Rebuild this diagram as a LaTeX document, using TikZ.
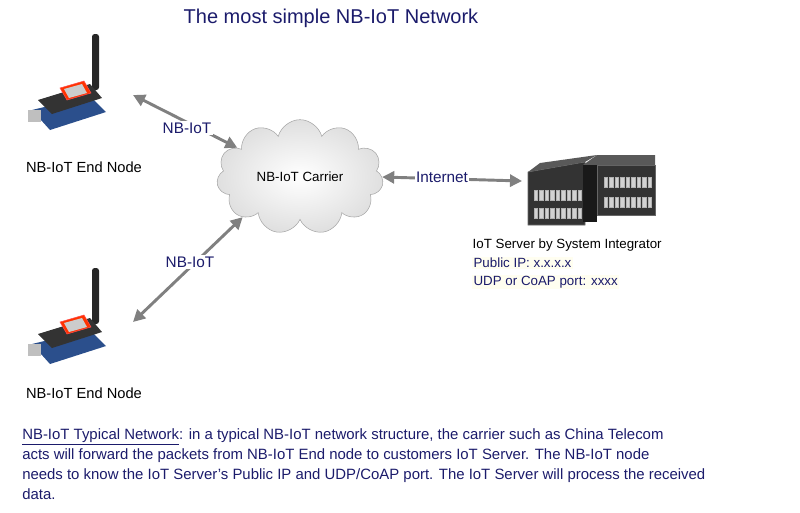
\documentclass[tikz,border=0pt]{standalone}
\usepackage{fontspec}
\setmainfont{Liberation Sans}
\usetikzlibrary{shapes.symbols,arrows.meta,calc}

\definecolor{navy}{HTML}{1B1B6B}
\definecolor{arrowgray}{HTML}{808080}
\definecolor{board}{HTML}{2B4F8C}

\tikzset{
    link/.style={draw=arrowgray, line width=2.2pt, {Triangle[length=9pt,width=9pt]}-{Triangle[length=9pt,width=9pt]}},
    caption/.style={font=\fontsize{10}{12}\selectfont, text=black},
    navytext/.style={font=\fontsize{11.5}{13}\selectfont, text=navy},
    rack/.style={fill=black!80, draw=black!60},
    slot/.style={fill=gray!35, draw=gray!60, line width=0.3pt}
}

\newcommand{\iotdevice}[1]{%
    % antenna
    \fill[black!85, rounded corners=2pt] ($#1+(24,-70)$) rectangle ($#1+(31,-14)$);
    % arduino board
    \fill[board] ($#1+(-36,6)$) -- ($#1+(22,-8)$) -- ($#1+(38,8)$) -- ($#1+(-18,26)$) -- cycle;
    % shield
    \fill[black!80] ($#1+(-30,-4)$) -- ($#1+(22,-20)$) -- ($#1+(34,-6)$) -- ($#1+(-16,10)$) -- cycle;
    % module
    \fill[red!60!orange, draw=red!70] ($#1+(-8,-16)$) -- ($#1+(16,-23)$) -- ($#1+(23,-11)$) -- ($#1+(-1,-4)$) -- cycle;
    \fill[gray!40] ($#1+(-4,-15)$) -- ($#1+(14,-20)$) -- ($#1+(19,-11)$) -- ($#1+(1,-6)$) -- cycle;
    % usb
    \fill[gray!50] ($#1+(-40,6)$) rectangle ($#1+(-27,18)$);
}

\begin{document}
\begin{tikzpicture}[x=0.75pt, y=-0.75pt]
    \useasboundingbox (0,0) rectangle (800,512);

    % title
    \node[font=\fontsize{15}{17}\selectfont, text=navy] (title) at (331,18) {The most simple NB-IoT Network};

    % end nodes
    \iotdevice{(68,104)}
    \node[caption, font=\fontsize{11}{12}\selectfont] (node1) at (84,167) {NB-IoT End Node};
    \coordinate (dev1) at (133,95);
    \iotdevice{(68,338)}
    \node[caption, font=\fontsize{11}{12}\selectfont] (node2) at (84,393) {NB-IoT End Node};
    \coordinate (dev2) at (133,322);

    % carrier cloud
    \node[cloud, cloud puffs=11, aspect=1.55, minimum width=125, minimum height=86,
          draw=gray!70, inner color=white, outer color=gray!25, caption] (carrier) at (300,177) {NB-IoT Carrier};

    % server racks
    \fill[rack] (528,172) -- (585,162) -- (585,225) -- (528,225) -- cycle;
    \fill[black!65] (528,172) -- (540,163) -- (597,155) -- (585,162) -- cycle;
    \fill[rack] (597,165) -- (655,165) -- (655,215) -- (597,215) -- cycle;
    \fill[black!65] (583,165) -- (597,155) -- (655,155) -- (655,165) -- cycle;
    \fill[black!90] (583,165) rectangle (597,222);
    \foreach \y in {190,208} {
        \foreach \i in {0,...,8} {\fill[slot] (534+5.5*\i,\y) rectangle (537.5+5.5*\i,\y+10);}
    }
    \foreach \y in {177,197} {
        \foreach \i in {0,...,8} {\fill[slot] (604+5.5*\i,\y) rectangle (607.5+5.5*\i,\y+10);}
    }
    \coordinate (server) at (522,181);

    % links
    \draw[link] (dev1) -- (carrier.155);
    \draw[link] (dev2) -- (carrier.215);
    \draw[link] (carrier.east) -- (server);
    \node[navytext, fill=white, inner sep=1pt] (lbl1) at (187,128) {NB-IoT};
    \node[navytext, fill=white, inner sep=1pt] (lbl2) at (190,262) {NB-IoT};
    \node[navytext, fill=white, inner sep=1pt] (lbl3) at (442,177) {Internet};

    % server text
    \node[caption, anchor=west] (srv) at (468,245) {IoT Server by System Integrator};
    \node[navytext, font=\fontsize{10}{12}\selectfont, anchor=west, fill=yellow!6, inner sep=1pt] (ip) at (472,263) {Public IP: x.x.x.x};
    \node[navytext, font=\fontsize{10}{12}\selectfont, anchor=west, fill=yellow!6, inner sep=1pt] (port) at (472,282) {UDP or CoAP port: xxxx};

    % description
    \node[navytext, anchor=north west, align=left, inner sep=0pt, font=\fontsize{11.2}{15}\selectfont] (desc) at (22,428)
        {\underline{NB-IoT Typical Network}: in a typical NB-IoT network structure, the carrier such as China Telecom\\
         acts will forward the packets from NB-IoT End node to customers IoT Server. The NB-IoT node\\
         needs to know the IoT Server's Public IP and UDP/CoAP port. The IoT Server will process the received\\
         data.};

\end{tikzpicture}
\end{document}
